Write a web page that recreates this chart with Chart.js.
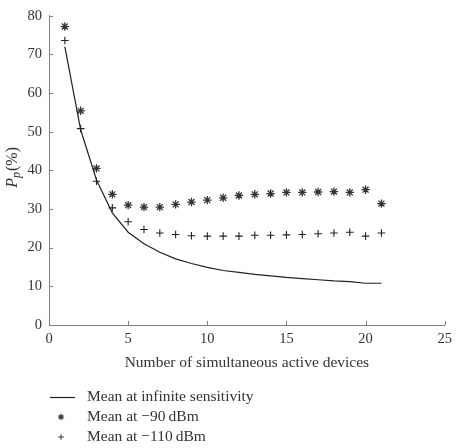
<!DOCTYPE html>
<html>
<head>
<meta charset="utf-8">
<script src="https://cdn.jsdelivr.net/npm/chart.js@4.4.1/dist/chart.umd.min.js"></script>
<style>
  html, body { margin: 0; padding: 0; background: #fff; }
  #wrap { width: 457px; height: 448px; }
</style>
</head>
<body>
<div id="wrap"><canvas id="c" width="457" height="448"></canvas></div>
<script>
// devices on the x axis
const devices = [1, 2, 3, 4, 5, 6, 7, 8, 9, 10, 11, 12, 13, 14, 15, 16, 17, 18, 19, 20, 21];
// mean Pp (%) per series
const infiniteSens = [72, 50.5, 37.5, 29, 24, 21, 18.8, 17.1, 15.9, 14.9, 14.1, 13.6, 13.1, 12.7, 12.3, 12.0, 11.7, 11.4, 11.2, 10.8, 10.8];
const at90dBm = [77.2, 55.4, 40.5, 33.8, 31.0, 30.5, 30.5, 31.2, 31.8, 32.3, 32.9, 33.5, 33.8, 34.0, 34.3, 34.3, 34.4, 34.5, 34.3, 35.0, 31.4];
const at110dBm = [73.6, 50.8, 37.2, 30.3, 26.7, 24.7, 23.8, 23.4, 23.1, 23.0, 23.0, 23.0, 23.2, 23.2, 23.3, 23.4, 23.6, 23.8, 24.0, 23.0, 23.8];
const xTicks = [0, 5, 10, 15, 20, 25];
const yTicks = [0, 10, 20, 30, 40, 50, 60, 70, 80];
const seriesLabels = ['Mean at infinite sensitivity', 'Mean at \u221290\u2009dBm', 'Mean at \u2212110\u2009dBm'];

const serif = '"Liberation Serif", "DejaVu Serif", serif';
const textColor = '#333';
const axisColor = '#808080';

function pts(ys) {
    return devices.map(function (d, i) { return { x: d, y: ys[i] }; });
}

// inward tick marks, y axis title and the stacked legend
const decorations = {
    id: 'decorations',
    afterDraw: function (chart) {
        const ctx = chart.ctx;
        const xs = chart.scales.x, ys = chart.scales.y;
        const area = chart.chartArea;
        ctx.save();
        ctx.strokeStyle = axisColor;
        ctx.lineWidth = 1;
        ctx.beginPath();
        xTicks.forEach(function (t) {
            const px = Math.round(xs.getPixelForValue(t)) + 0.5;
            ctx.moveTo(px, area.bottom);
            ctx.lineTo(px, area.bottom - 4);
        });
        yTicks.forEach(function (t) {
            const py = Math.round(ys.getPixelForValue(t)) + 0.5;
            ctx.moveTo(area.left, py);
            ctx.lineTo(area.left + 4, py);
        });
        ctx.stroke();

        // y title: P_p (%)
        ctx.fillStyle = textColor;
        ctx.translate(13, (area.top + area.bottom) / 2 - 3);
        ctx.rotate(-Math.PI / 2);
        ctx.textBaseline = 'middle';
        ctx.font = 'italic 16px ' + serif;
        const wP = ctx.measureText('P').width;
        ctx.font = 'italic 12px ' + serif;
        const wp = ctx.measureText('p').width;
        ctx.font = '16px ' + serif;
        const wr = ctx.measureText('(%)').width;
        let x0 = -(wP + wp + 1 + wr) / 2;
        ctx.font = 'italic 16px ' + serif;
        ctx.fillText('P', x0, 0);
        ctx.font = 'italic 12px ' + serif;
        ctx.fillText('p', x0 + wP, 4);
        ctx.font = '16px ' + serif;
        ctx.fillText('(%)', x0 + wP + wp + 1, 0);
        ctx.restore();

        // legend
        ctx.save();
        ctx.font = '15.5px ' + serif;
        ctx.textBaseline = 'middle';
        chart.data.datasets.forEach(function (ds, i) {
            const y = 397 + i * 20;
            ctx.strokeStyle = ds.borderColor;
            ctx.fillStyle = ds.borderColor;
            if (ds.showLine) {
                ctx.lineWidth = ds.borderWidth;
                ctx.beginPath();
                ctx.moveTo(50, y + 0.5);
                ctx.lineTo(75, y + 0.5);
                ctx.stroke();
            } else {
                ctx.lineWidth = ds.pointBorderWidth * 0.8;
                Chart.helpers.drawPoint(ctx, {
                    pointStyle: ds.pointStyle,
                    radius: ds.pointRadius * 0.75,
                    rotation: 0,
                    borderWidth: ds.pointBorderWidth * 0.8
                }, 61, y);
            }
            ctx.fillStyle = textColor;
            ctx.fillText(ds.label, 87, y);
        });
        ctx.restore();
    }
};

const TheChart = new Chart(document.getElementById('c'), {
    type: 'scatter',
    data: {
        datasets: [{
            label: seriesLabels[0],
            data: pts(infiniteSens),
            showLine: true,
            borderColor: '#222',
            borderWidth: 1.2,
            pointRadius: 0,
            tension: 0
        }, {
            label: seriesLabels[1],
            data: pts(at90dBm),
            showLine: false,
            pointStyle: 'star',
            pointRadius: 4.2,
            pointBorderWidth: 1.3,
            borderColor: '#333',
            backgroundColor: '#333'
        }, {
            label: seriesLabels[2],
            data: pts(at110dBm),
            showLine: false,
            pointStyle: 'cross',
            pointRadius: 3.8,
            pointBorderWidth: 1.1,
            borderColor: '#222',
            backgroundColor: '#222'
        }]
    },
    options: {
        responsive: false,
        animation: false,
        events: [],
        layout: { padding: { left: 0, right: 12, top: 13, bottom: 76 } },
        plugins: {
            legend: { display: false },
            tooltip: { enabled: false }
        },
        scales: {
            x: {
                type: 'linear',
                min: 0,
                max: 25,
                grid: { display: true, drawOnChartArea: false, drawTicks: false },
                border: { display: true, color: axisColor, width: 1 },
                ticks: {
                    stepSize: 5,
                    padding: 5,
                    color: textColor,
                    font: { family: serif, size: 14.5 },
                    maxRotation: 0
                },
                title: {
                    display: true,
                    text: 'Number of simultaneous active devices',
                    color: textColor,
                    font: { family: serif, size: 15.5 },
                    padding: { top: 4, bottom: 0 }
                },
                afterFit: function (s) { s.height = 47; }
            },
            y: {
                type: 'linear',
                min: 0,
                max: 80,
                grid: { display: true, drawOnChartArea: false, drawTicks: false },
                border: { display: true, color: axisColor, width: 1 },
                ticks: {
                    stepSize: 10,
                    padding: 7,
                    color: textColor,
                    font: { family: serif, size: 14.5 }
                },
                afterFit: function (s) { s.width = 49; }
            }
        }
    },
    plugins: [decorations]
});
</script>
</body>
</html>
